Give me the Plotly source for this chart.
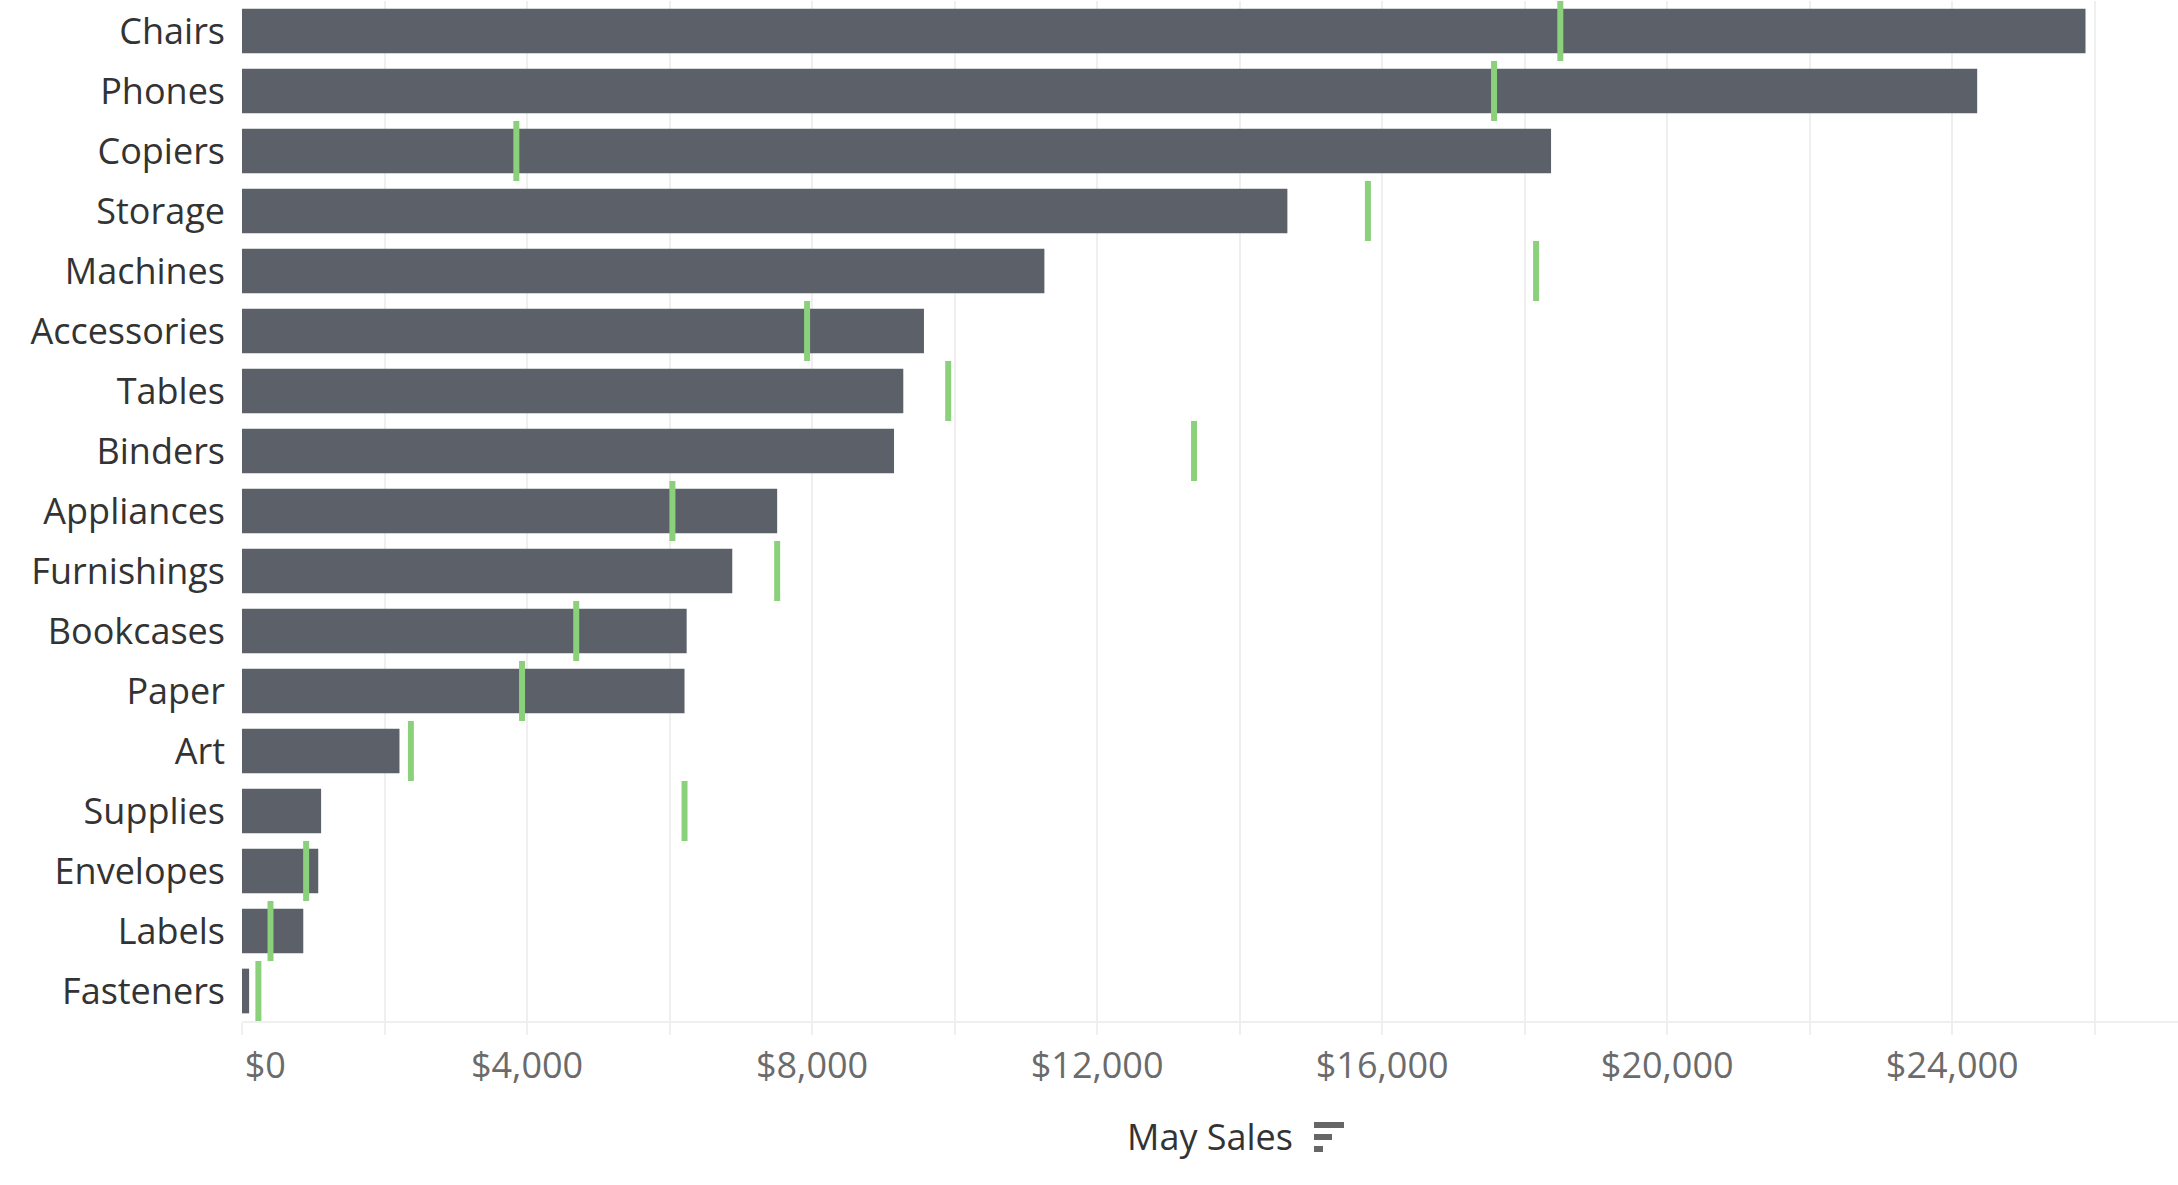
import plotly.graph_objects as go

categories = ["Chairs", "Phones", "Copiers", "Storage", "Machines", "Accessories",
              "Tables", "Binders", "Appliances", "Furnishings", "Bookcases", "Paper",
              "Art", "Supplies", "Envelopes", "Labels", "Fasteners"]
may_sales = [25870, 24350, 18370, 14670, 11260, 9570, 9280, 9150, 7510, 6880,
             6240, 6210, 2210, 1110, 1070, 860, 100]
target_sales = [18500, 17570, 3850, 15800, 18160, 7930, 9910, 13360, 6040, 7510,
                4690, 3930, 2370, 6210, 900, 400, 230]
tick_values = [0, 2000, 4000, 6000, 8000, 10000, 12000, 14000, 16000, 18000,
               20000, 22000, 24000, 26000]
tick_labels = ["$0", "", "$4,000", "", "$8,000", "", "$12,000", "", "$16,000", "",
               "$20,000", "", "$24,000", ""]

W, H = 2178, 1185
ML, MR, MT, MB = 242, 0, 1, 164
BAR = "#5b6069"
GREEN = "#8bd17c"
GRID = "#efefef"

# first label sits to the right of its tick, as in the original
shown_labels = [("\u00a0" * 5 + t) if i == 0 else t for i, t in enumerate(tick_labels)]

plot_w = W - ML - MR
plot_h = H - MT - MB
row_px = plot_h / len(categories)

fig = go.Figure()
fig.add_trace(go.Bar(
    y=categories, x=may_sales, orientation="h",
    marker=dict(color=BAR, line=dict(width=0)),
    width=0.745, hoverinfo="x+y",
))
fig.add_trace(go.Scatter(
    y=categories, x=target_sales, mode="markers",
    # line-ns symbol length is 1.4 * size -> full row height
    marker=dict(symbol="line-ns", size=row_px / 1.4, color=GREEN,
                line=dict(color=GREEN, width=6)),
    cliponaxis=False, hoverinfo="x+y",
))

fig.update_layout(
    width=W, height=H,
    margin=dict(l=ML, r=MR, t=MT, b=MB, pad=0, autoexpand=False),
    paper_bgcolor="white", plot_bgcolor="white",
    showlegend=False,
    font=dict(family="Open Sans", size=36, color="#333333"),
    xaxis=dict(
        automargin=False,
        range=[0, plot_w / 71.26 * 1000],
        tickmode="array", tickvals=tick_values, ticktext=shown_labels,
        showgrid=True, gridcolor=GRID, gridwidth=2,
        zeroline=False,
        showline=True, linecolor=GRID, linewidth=2,
        ticks="outside", ticklen=12, tickwidth=2, tickcolor=GRID,
        tickfont=dict(family="Open Sans", size=36, color="#6b6b6b"),
        ticklabelstandoff=0,
        title=dict(text="May Sales", font=dict(family="Open Sans", size=36, color="#333333"),
                   standoff=37),
        fixedrange=True,
    ),
    yaxis=dict(
        automargin=False,
        categoryorder="array", categoryarray=categories,
        range=[len(categories) - 0.5, -0.5],
        showgrid=False, zeroline=False, showline=False,
        ticks="", ticklabelstandoff=16,
        tickfont=dict(family="Open Sans", size=36, color="#333333"),
        fixedrange=True,
    ),
)

# sort indicator next to the axis title (three bars of decreasing width)
def px_to_paper(x, y):
    return (x - ML) / plot_w, (H - MB - y) / plot_h

for x0, x1, y0, y1 in [(1314, 1344, 1122, 1128), (1314, 1332, 1134, 1140), (1314, 1323, 1146, 1152)]:
    a = px_to_paper(x0, y1)
    b = px_to_paper(x1, y0)
    fig.add_shape(type="rect", xref="paper", yref="paper",
                  x0=a[0], y0=a[1], x1=b[0], y1=b[1],
                  fillcolor="#666666", line=dict(width=0), layer="above")

fig.write_html("out.html", config={"displayModeBar": False},
               post_script="document.body.style.margin='0';document.body.style.overflow='hidden';")
